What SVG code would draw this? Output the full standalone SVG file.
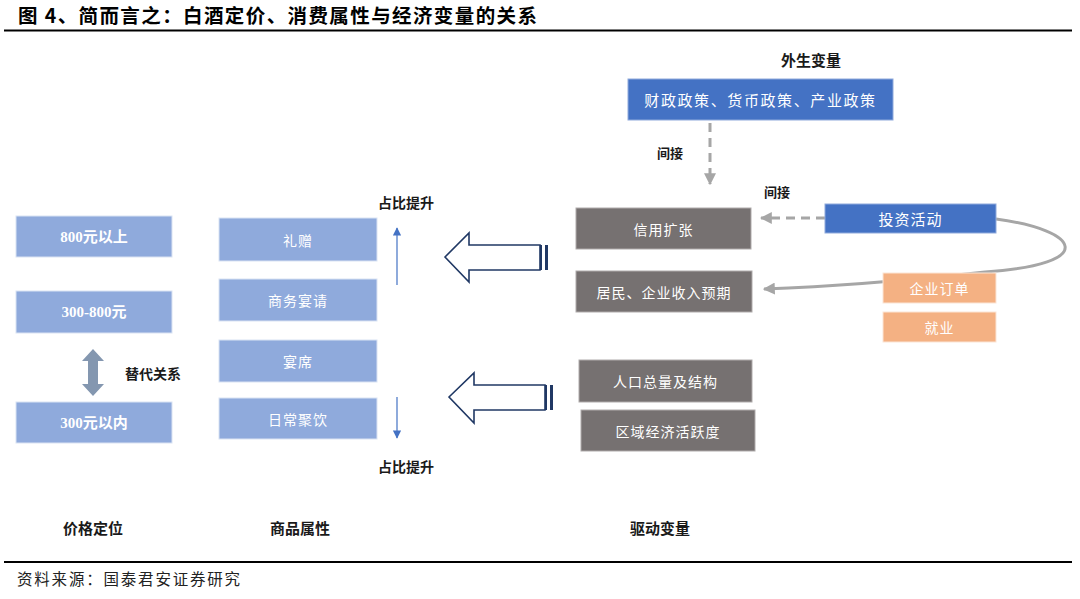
<svg xmlns="http://www.w3.org/2000/svg" width="1080" height="599" viewBox="0 0 1080 599">
<style>
text{font-family:"Noto Sans CJK SC","Noto Sans",sans-serif;}
.t{font-size:19.5px;font-weight:bold;fill:#000;letter-spacing:1.4px;}
.lab{font-size:14px;font-weight:bold;fill:#1a1a1a;text-anchor:middle;}
.bt{font-size:14px;fill:#fff;text-anchor:middle;dominant-baseline:central;letter-spacing:1px;}
.num{font-family:"Liberation Serif","Noto Sans CJK SC",serif;font-weight:bold;font-size:15px;letter-spacing:0;}
.lb{fill:#8FAADC;stroke:#DAE3F3;stroke-width:1;}
.db{fill:#4472C4;stroke:#8FAADC;stroke-width:1;}
.gr{fill:#767171;stroke:#AFABAB;stroke-width:1;}
.or{fill:#F4B183;stroke:#FBE5D6;stroke-width:1;}
.big{fill:#fff;stroke:#203864;stroke-width:1.6;}
.dash{fill:none;stroke:#A6A6A6;stroke-width:3;stroke-dasharray:9,6;}
.solid{fill:none;stroke:#A6A6A6;stroke-width:3;}
.blue{stroke:#4472C4;stroke-width:1.2;}
</style>
<defs>
<marker id="ga" viewBox="0 0 10 10" refX="9" refY="5" markerWidth="4" markerHeight="4" orient="auto" markerUnits="strokeWidth">
<path d="M0,0 L10,5 L0,10 z" fill="#A6A6A6"/>
</marker>
<marker id="ba" viewBox="0 0 10 10" refX="9" refY="5" markerWidth="7" markerHeight="7" orient="auto" markerUnits="strokeWidth">
<path d="M0,0 L10,5 L0,10 z" fill="#4472C4"/>
</marker>
</defs>
<rect width="1080" height="599" fill="#fff"/>
<text class="t" x="18" y="23">图 4、简而言之：白酒定价、消费属性与经济变量的关系</text>
<line x1="4" y1="30.5" x2="1072" y2="30.5" stroke="#000" stroke-width="2"/>
<line x1="4" y1="562" x2="1072" y2="562" stroke="#000" stroke-width="2"/>
<text x="17" y="585" style="font-size:15.5px;fill:#222;letter-spacing:1.8px;">资料来源：国泰君安证券研究</text>

<g id="connectors">
<path class="solid" d="M996,219 C1080,230 1100,264 985,272 C930,278 850,286 764,289" marker-end="url(#ga)"/>
<line class="dash" x1="710" y1="123" x2="710" y2="184" marker-end="url(#ga)"/>
<line class="dash" x1="825" y1="218" x2="761" y2="218" marker-end="url(#ga)"/>
<line class="blue" x1="397" y1="285" x2="397" y2="228" marker-end="url(#ba)"/>
<line class="blue" x1="397" y1="397" x2="397" y2="438" marker-end="url(#ba)"/>
<g id="bigarrow1">
<polygon class="big" points="445,257 469,233 469,245 540,245 540,270 469,270 469,282"/>
<rect x="540" y="245" width="2" height="25" fill="#203864"/>
<rect x="545" y="245" width="3" height="25" fill="#203864"/>
</g>
<g id="bigarrow2">
<polygon class="big" points="449,397 474,373 474,385 545,385 545,410 474,410 474,423"/>
<rect x="545" y="385" width="2" height="25" fill="#203864"/>
<rect x="550" y="385" width="3" height="25" fill="#203864"/>
</g>
<polygon id="dbl" points="93,349 104,361 98,361 98,384 104,384 93,396 82,384 88,384 88,361 82,361" fill="#8497B0"/>
</g>

<g id="n800"><rect class="lb" x="16" y="216" width="156" height="41"/><text class="bt num" x="94" y="237">800元以上</text></g>
<g id="n300800"><rect class="lb" x="16" y="291" width="156" height="42"/><text class="bt num" x="94" y="312">300-800元</text></g>
<g id="n300"><rect class="lb" x="16" y="402" width="156" height="41"/><text class="bt num" x="94" y="423">300元以内</text></g>
<text class="lab" x="153" y="379">替代关系</text>

<g id="gift"><rect class="lb" x="219" y="218" width="158" height="43"/><text class="bt" x="298" y="239.5">礼赠</text></g>
<g id="biz"><rect class="lb" x="219" y="279" width="158" height="42"/><text class="bt" x="298" y="300">商务宴请</text></g>
<g id="banquet"><rect class="lb" x="219" y="340" width="158" height="42"/><text class="bt" x="298" y="361">宴席</text></g>
<g id="daily"><rect class="lb" x="219" y="398" width="158" height="41"/><text class="bt" x="298" y="418.5">日常聚饮</text></g>
<text class="lab" x="406" y="208">占比提升</text>
<text class="lab" x="406" y="472">占比提升</text>

<text class="lab" x="811" y="66" style="font-size:15px">外生变量</text>
<g id="policy"><rect class="db" x="628" y="79" width="265" height="41"/><text class="bt" x="760.5" y="99.5" style="font-size:15px;letter-spacing:1.6px">财政政策、货币政策、产业政策</text></g>
<text class="lab" x="670" y="158" style="font-size:13px">间接</text>
<text class="lab" x="777" y="197" style="font-size:13px">间接</text>
<g id="credit"><rect class="gr" x="576" y="208" width="175" height="41"/><text class="bt" x="663.5" y="228.5">信用扩张</text></g>
<g id="income"><rect class="gr" x="576" y="271" width="176" height="41"/><text class="bt" x="664" y="291.5">居民、企业收入预期</text></g>
<g id="invest"><rect class="db" x="825" y="204" width="171" height="29"/><text class="bt" x="910.5" y="218.5" style="font-size:15px">投资活动</text></g>
<g id="orders"><rect class="or" x="883" y="273" width="113" height="30"/><text class="bt" x="939.5" y="288">企业订单</text></g>
<g id="jobs"><rect class="or" x="883" y="312" width="113" height="30"/><text class="bt" x="939.5" y="327">就业</text></g>
<g id="pop"><rect class="gr" x="579" y="360" width="173" height="42"/><text class="bt" x="665.5" y="381">人口总量及结构</text></g>
<g id="region"><rect class="gr" x="581" y="410" width="174" height="41"/><text class="bt" x="668" y="430.5">区域经济活跃度</text></g>

<text class="lab" x="93" y="534" style="font-size:15px">价格定位</text>
<text class="lab" x="300" y="534" style="font-size:15px">商品属性</text>
<text class="lab" x="660" y="534" style="font-size:15px">驱动变量</text>
</svg>
